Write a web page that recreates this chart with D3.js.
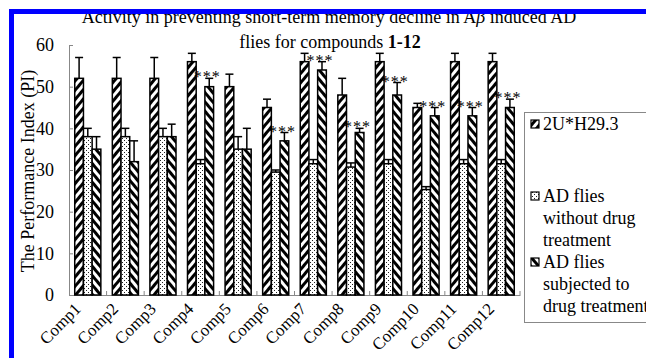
<!DOCTYPE html>
<html><head><meta charset="utf-8">
<script src="https://cdn.jsdelivr.net/npm/d3@7"></script>
<style>
html,body{margin:0;padding:0;background:#fff;overflow:hidden}
text{font-family:"Liberation Serif","Times New Roman",serif;fill:#000}
</style></head>
<body><svg id="c" width="646" height="358"></svg>
<script>
const categories = ["Comp1","Comp2","Comp3","Comp4","Comp5","Comp6","Comp7","Comp8","Comp9","Comp10","Comp11","Comp12"];
const seriesNames = ["2U*H29.3","AD flies without drug treatment","AD flies subjected to drug treatment"];
const control     = [52,52,52,56,50,45,56,48,56,45,56,56];
const controlErr  = [5,5,5,2,3,2,2,4,2,1,2,2];
const adNoDrug    = [38,38,38,31.5,35,29.5,31.5,30.7,31.5,25.3,31.5,31.5];
const adNoDrugErr = [2,2,2,1,3,0.5,1,1,1,0.7,1,1];
const adDrug      = [35,32,38,50,35,37,54,39,48,43,43,45];
const adDrugErr   = [3,5,3,2,5,2,2,1,3,2,2,2];
const significant = [false,false,false,true,false,true,true,true,true,true,true,true];
const yTicks = [0,10,20,30,40,50,60];

const svg = d3.select("#c");
const defs = svg.append("defs");
function stripes(id, angle){
  const p = defs.append("pattern").attr("id",id).attr("patternUnits","userSpaceOnUse")
    .attr("width",6).attr("height",6).attr("patternTransform",`rotate(${angle})`);
  p.append("rect").attr("width",6).attr("height",6).attr("fill","#fff");
  p.append("rect").attr("width",3).attr("height",6).attr("fill","#000");
}
stripes("p0", 40);
stripes("p2", -40);
const pd = defs.append("pattern").attr("id","p1").attr("patternUnits","userSpaceOnUse").attr("width",4).attr("height",4);
pd.append("rect").attr("width",4).attr("height",4).attr("fill","#fff");
pd.append("rect").attr("x",0).attr("y",0).attr("width",1).attr("height",1).attr("fill","#222");
pd.append("rect").attr("x",2).attr("y",2).attr("width",1).attr("height",1).attr("fill","#222");

const x = d3.scaleBand().domain(categories).range([69,520]).paddingInner(0).paddingOuter(0);
const y = d3.scaleLinear().domain([0,60]).range([295,45]);
const barW = 8.7;
const xs = d3.scaleBand().domain([0,1,2]).range([0, barW*3]);
const off = (x.bandwidth() - barW*3)/2;

const series = [
  {vals:control, errs:controlErr, fill:"url(#p0)"},
  {vals:adNoDrug, errs:adNoDrugErr, fill:"url(#p1)"},
  {vals:adDrug, errs:adDrugErr, fill:"url(#p2)"}
];

// axes
const ya = svg.append("g").attr("transform","translate(69,0)")
  .call(d3.axisLeft(y).tickValues(yTicks).tickSizeInner(-4).tickSizeOuter(0).tickPadding(15));
ya.attr("font-family",null);
ya.select(".domain").attr("stroke","#888");
ya.selectAll(".tick line").attr("stroke","#888");
ya.selectAll(".tick text").style("font-size","18px").attr("fill","#000");

const xa = svg.append("g").attr("transform",`translate(0,${y(0)})`)
  .call(d3.axisBottom(x).tickSize(0).tickSizeOuter(0));
xa.attr("font-family",null);
xa.select(".domain").attr("stroke","#888");
xa.selectAll(".tick text").style("font-size","17px").attr("fill","#000")
  .attr("text-anchor","end").attr("dy",0).attr("y",0).attr("x",0)
  .attr("transform","translate(-6,15) rotate(-45)");
const bounds = categories.map(c=>x(c)).concat([x.range()[1]]).slice(1);
svg.append("g").selectAll("line").data(bounds).join("line")
  .attr("x1",d=>d).attr("x2",d=>d).attr("y1",y(0)).attr("y2",y(0)-4).attr("stroke","#888");

// bars
series.forEach((s,si)=>{
  const g = svg.append("g");
  categories.forEach((c,i)=>{
    const bx = x(c)+off+xs(si);
    const cx = bx + barW/2;
    const top = y(s.vals[i]), et = y(s.vals[i]+s.errs[i]);
    g.append("line").attr("x1",cx).attr("x2",cx).attr("y1",top).attr("y2",et).attr("stroke","#000").attr("stroke-width",1.5);
    g.append("line").attr("x1",cx-4).attr("x2",cx+4).attr("y1",et).attr("y2",et).attr("stroke","#000").attr("stroke-width",1.5);
    g.append("rect").attr("x",bx).attr("y",top).attr("width",barW).attr("height",y(0)-top)
      .attr("fill",s.fill).attr("stroke","#000").attr("stroke-width",1.5);
    if(si===2 && significant[i]){
      g.append("text").attr("x",cx-2).attr("y",et+4).attr("text-anchor","middle").attr("fill","#000")
        .style("font-size","16px").attr("letter-spacing","1px").text("***");
    }
  });
});

// title
const t = svg.append("text").attr("text-anchor","middle").style("font-size","18px");
t.append("tspan").attr("x",329).attr("y",23).text("Activity in preventing short-term memory decline in A");
t.append("tspan").style("font-style","italic").text("β");
t.append("tspan").text(" induced AD");
const t2 = svg.append("text").attr("text-anchor","middle").style("font-size","18px").attr("x",330).attr("y",48);
t2.append("tspan").text("flies for compounds ");
t2.append("tspan").style("font-weight","bold").text("1-12");

// y label
svg.append("text").attr("transform","translate(34,171) rotate(-90)").attr("text-anchor","middle")
  .style("font-size","18px").text("The Performance Index (PI)");

// legend
svg.append("rect").attr("x",524.5).attr("y",112.5).attr("width",140).attr("height",210).attr("fill","none").attr("stroke","#888");
const leg = [
  {fill:"url(#p0)", lines:["2U*H29.3"], y:130},
  {fill:"url(#p1)", lines:["AD flies","without drug","treatment"], y:202},
  {fill:"url(#p2)", lines:["AD flies","subjected to","drug treatment"], y:268}
];
leg.forEach((l,i)=>{
  svg.append("rect").attr("x",531).attr("y",l.y-10).attr("width",8).attr("height",8)
    .attr("fill",l.fill).attr("stroke","#000").attr("stroke-width",1.2);
  const tx = svg.append("text").style("font-size","18px");
  l.lines.forEach((ln,j)=>tx.append("tspan").attr("x",543).attr("y",l.y+j*22).text(ln));
});

// blue frame
svg.append("rect").attr("x",9).attr("y",9).attr("width",640).attr("height",5).attr("fill","#0000ff");
svg.append("rect").attr("x",9).attr("y",9).attr("width",5).attr("height",360).attr("fill","#0000ff");
</script></body></html>
